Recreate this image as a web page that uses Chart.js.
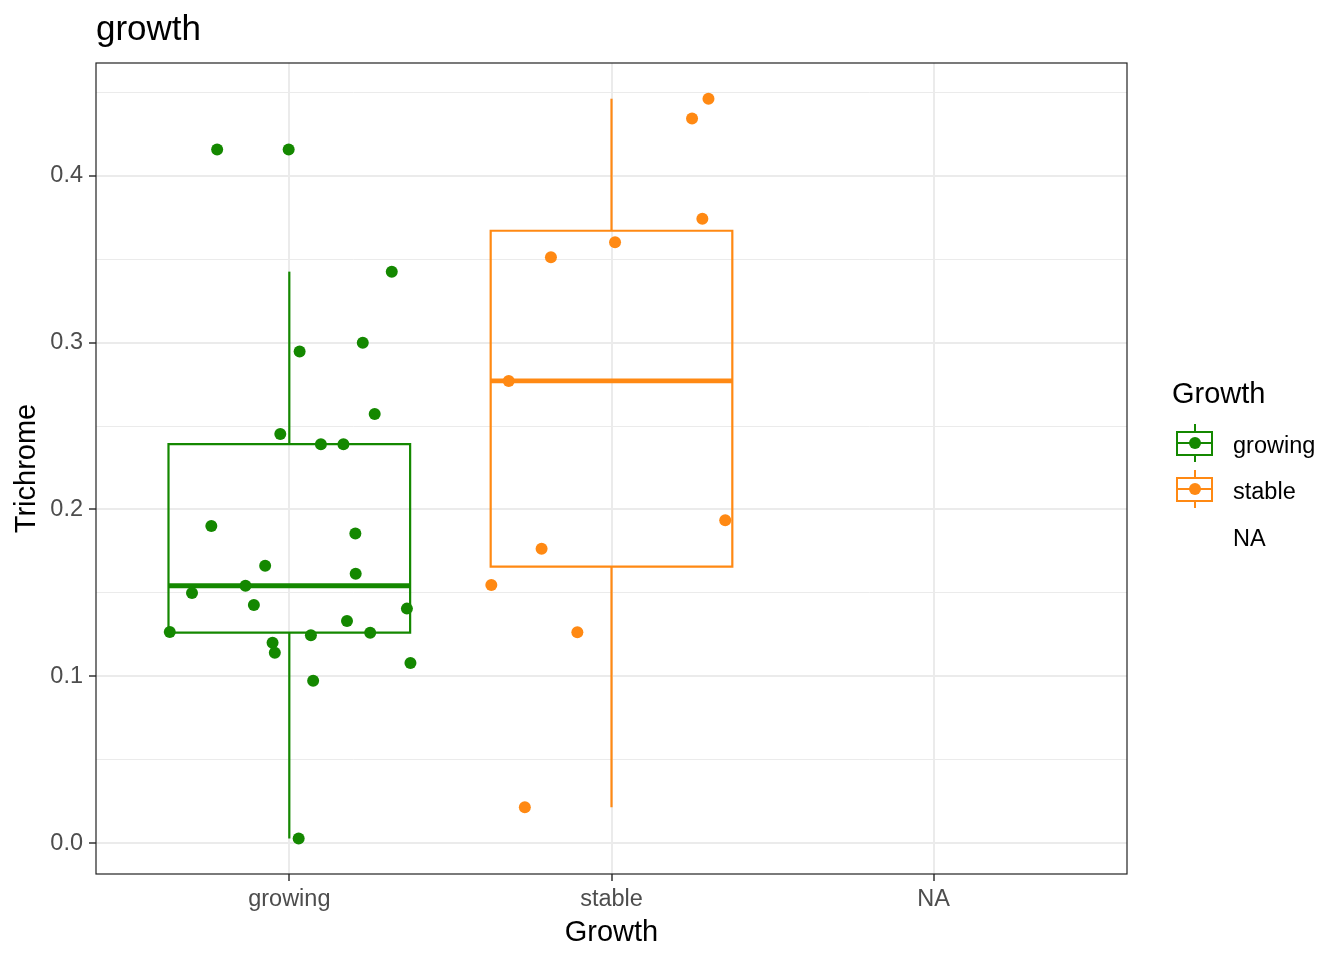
<!DOCTYPE html>
<html>
<head>
<meta charset="utf-8">
<script src="https://cdn.jsdelivr.net/npm/chart.js@4"></script>
<style>
  body { margin: 0; background: #fff; font-family: "Liberation Sans", Arial, Helvetica, sans-serif; }
  #wrap { position: relative; width: 1344px; height: 960px; }
  .lg { position: absolute; color: #000; white-space: nowrap; }
  .key { position: absolute; width: 37px; height: 38px; }
  .key div { position: absolute; box-sizing: border-box; }
</style>
</head>
<body>
<div id="wrap">
  <canvas id="plot" width="1344" height="960"></canvas>
  <div id="legend"></div>
</div>
<script>
const categories = ['growing', 'stable', 'NA'];

// Trichrome values and their jitter offsets (in category units)
const growingValues = [0.4157, 0.4157, 0.3425, 0.2999, 0.2946, 0.2572, 0.2452, 0.2391, 0.2391,
    0.1901, 0.1856, 0.1663, 0.1615, 0.1543, 0.1500, 0.1428, 0.1406, 0.1332, 0.1266, 0.1262,
    0.1246, 0.1202, 0.1142, 0.1080, 0.0974, 0.0028];
const growingJitter = [-0.224, -0.002, 0.318, 0.228, 0.032, 0.265, -0.028, 0.098, 0.168,
    -0.242, 0.205, -0.075, 0.206, -0.136, -0.302, -0.110, 0.365, 0.179, -0.371, 0.251,
    0.067, -0.052, -0.045, 0.376, 0.074, 0.029];

const stableValues = [0.4461, 0.4342, 0.3742, 0.3601, 0.3511, 0.2770, 0.1935, 0.1765, 0.1548, 0.1265, 0.0216];
const stableJitter = [0.301, 0.250, 0.282, 0.011, -0.188, -0.319, 0.353, -0.217, -0.373, -0.106, -0.269];

// lower whisker, q1, median, q3, upper whisker
const growingBox = [0.0028, 0.1262, 0.1543, 0.2391, 0.3425];
const stableBox = [0.0216, 0.1657, 0.2770, 0.3670, 0.4461];

const yMajor = [0, 0.1, 0.2, 0.3, 0.4];
const yMinor = [0.05, 0.15, 0.25, 0.35, 0.45];

const green = '#148800';
const orange = '#FF8913';
const halfWidth = 0.375;

Chart.defaults.font.family = '"Liberation Sans", Arial, Helvetica, sans-serif';

function boxSets(stats, idx, color) {
    const [lo, q1, med, q3, hi] = stats;
    const a = idx - halfWidth, b = idx + halfWidth;
    const line = (data, width, cap) => ({
        data: data, showLine: true, borderColor: color, borderWidth: width,
        pointRadius: 0, fill: false, order: 1,
        borderJoinStyle: 'miter', borderCapStyle: cap || 'butt'
    });
    return [
        line([{x: a, y: q1}, {x: b, y: q1}, {x: b, y: q3}, {x: a, y: q3}, {x: a, y: q1}], 2.2, 'square'),
        line([{x: a, y: med}, {x: b, y: med}], 4.8),
        line([{x: idx, y: q3}, {x: idx, y: hi}], 2.2),
        line([{x: idx, y: q1}, {x: idx, y: lo}], 2.2),
    ];
}

function pointSet(values, jitter, idx, color) {
    return {
        data: values.map((v, i) => ({x: idx + jitter[i], y: v})),
        backgroundColor: color, borderWidth: 0, pointRadius: 6,
        showLine: false, order: 0
    };
}

const isMajor = v => yMajor.some(m => Math.abs(m - v) < 1e-9);

const panelBorder = {
    id: 'panelBorder',
    afterDraw(chart) {
        const {ctx, chartArea: a} = chart;
        ctx.save();
        ctx.strokeStyle = '#222222';
        ctx.lineWidth = 1.2;
        ctx.strokeRect(a.left, a.top, a.right - a.left, a.bottom - a.top);
        ctx.restore();
    }
};

const config = {
    type: 'scatter',
    data: {
        datasets: [
            pointSet(growingValues, growingJitter, 0, green),
            pointSet(stableValues, stableJitter, 1, orange),
            ...boxSets(growingBox, 0, green),
            ...boxSets(stableBox, 1, orange),
        ]
    },
    options: {
        responsive: false,
        animation: false,
        layout: { padding: { top: 0, left: 0, right: 217, bottom: 0 } },
        plugins: {
            legend: { display: false },
            tooltip: { enabled: false },
            title: {
                display: true, text: 'growth', align: 'start', fullSize: false,
                color: '#000', font: { size: 35, weight: 'normal' },
                padding: { top: 9, bottom: 12 }
            }
        },
        scales: {
            x: {
                type: 'linear', min: -0.6, max: 2.6,
                afterBuildTicks: s => { s.ticks = categories.map((c, i) => ({value: i})); },
                afterFit: s => { s.height = 86; },
                ticks: {
                    callback: v => categories[v], color: '#4D4D4D', font: { size: 23.5 },
                    padding: 4, maxRotation: 0, autoSkip: false
                },
                grid: { color: '#EBEBEB', lineWidth: 2, tickLength: 7, tickColor: '#333333', tickWidth: 1.5 },
                border: { display: false },
                title: { display: true, text: 'Growth', color: '#000', font: { size: 29 }, padding: { top: 0, bottom: 10 } }
            },
            y: {
                min: -0.0184, max: 0.4675,
                afterBuildTicks: s => {
                    s.ticks = yMajor.concat(yMinor).sort((p, q) => p - q).map(v => ({value: v}));
                },
                afterFit: s => { s.width = 96; },
                ticks: {
                    callback: v => isMajor(v) ? v.toFixed(1) : '',
                    color: '#4D4D4D', font: { size: 23.5 }, padding: 6, autoSkip: false
                },
                grid: {
                    color: '#EBEBEB',
                    lineWidth: ctx => isMajor(ctx.tick.value) ? 2 : 1,
                    tickLength: 7,
                    tickColor: ctx => isMajor(ctx.tick.value) ? '#333333' : 'rgba(0,0,0,0)',
                    tickWidth: 1.5
                },
                border: { display: false },
                title: { display: true, text: 'Trichrome', color: '#000', font: { size: 29 }, padding: { top: 10, bottom: 0 } }
            }
        }
    },
    plugins: [panelBorder]
};

const plot = new Chart(document.getElementById('plot'), config);

// legend drawn as html
const legend = document.getElementById('legend');

function addText(text, left, top, size) {
    const d = document.createElement('div');
    d.className = 'lg';
    d.textContent = text;
    d.style.left = left + 'px';
    d.style.top = top + 'px';
    d.style.fontSize = size + 'px';
    d.style.lineHeight = size + 'px';
    legend.appendChild(d);
}

function addKey(color, top) {
    const k = document.createElement('div');
    k.className = 'key';
    k.style.left = '1176px';
    k.style.top = top + 'px';
    const part = (css) => {
        const p = document.createElement('div');
        Object.assign(p.style, css);
        k.appendChild(p);
    };
    part({ left: '0px', top: '7px', width: '37px', height: '25px', border: '2px solid ' + color });
    part({ left: '0px', top: '18px', width: '37px', height: '2px', background: color });
    part({ left: '17.5px', top: '0px', width: '2px', height: '8px', background: color });
    part({ left: '17.5px', top: '31px', width: '2px', height: '7px', background: color });
    part({ left: '12.5px', top: '13px', width: '12px', height: '12px', borderRadius: '50%', background: color });
    legend.appendChild(k);
}

addText('Growth', 1172, 379, 29);
addKey(green, 424);
addKey(orange, 470);
addText('growing', 1233, 434, 23.5);
addText('stable', 1233, 480, 23.5);
addText('NA', 1233, 527, 23.5);
</script>
</body>
</html>
